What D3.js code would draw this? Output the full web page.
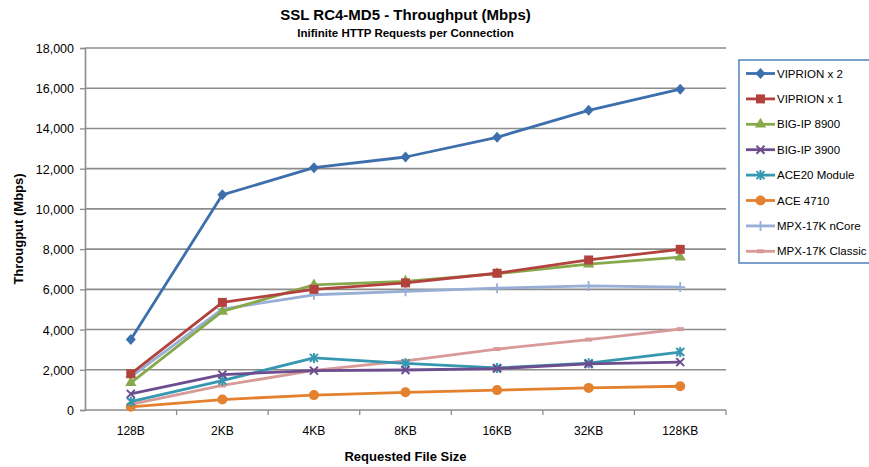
<!DOCTYPE html>
<html>
<head>
<meta charset="utf-8">
<script src="https://cdn.jsdelivr.net/npm/d3@7"></script>
<style>
  body { margin: 0; background: #fff; }
  text { font-family: "Liberation Sans Narrow", "Liberation Sans", Arial, sans-serif; fill: #000; }
  .axisText { font-weight: bold; }
</style>
</head>
<body>
<div id="chart"></div>
<script>
// chart data
var sizes = ["128B", "2KB", "4KB", "8KB", "16KB", "32KB", "128KB"];
var yTicks = [0, 2000, 4000, 6000, 8000, 10000, 12000, 14000, 16000, 18000];

var viprion2 = [3500, 10700, 12050, 12580, 13560, 14900, 15950];
var viprion1 = [1800, 5350, 6000, 6320, 6800, 7460, 7990];
var bigip8900 = [1350, 4900, 6220, 6400, 6780, 7250, 7600];
var bigip3900 = [800, 1760, 1960, 1990, 2060, 2290, 2380];
var ace20 = [420, 1460, 2590, 2320, 2090, 2330, 2880];
var ace4710 = [160, 520, 740, 880, 990, 1100, 1180];
var mpxNcore = [1650, 5020, 5730, 5900, 6060, 6170, 6110];
var mpxClassic = [280, 1220, 1970, 2440, 3030, 3500, 4020];

var seriesNames = ["VIPRION x 2", "VIPRION x 1", "BIG-IP 8900", "BIG-IP 3900",
  "ACE20 Module", "ACE 4710", "MPX-17K nCore", "MPX-17K Classic"];
var seriesValues = [viprion2, viprion1, bigip8900, bigip3900, ace20, ace4710, mpxNcore, mpxClassic];
var seriesColors = ["#3d6fad", "#b3413d", "#87a94b", "#6c4e8f", "#3597b0", "#e3812f", "#97aed6", "#d79a98"];
var seriesMarkers = ["diamond", "square", "triangle", "x", "star", "circle", "plus", "dash"];

var svgWidth = 869;
var svgHeight = 467;
var margin = { top: 48, right: 143, bottom: 57, left: 85 };
var width = svgWidth - margin.left - margin.right;
var height = svgHeight - margin.top - margin.bottom;

var svg = d3.select("#chart")
  .append("svg")
  .attr("width", svgWidth)
  .attr("height", svgHeight);

var chartGroup = svg.append("g")
  .attr("transform", `translate(${margin.left}, ${margin.top})`);

var xBand = d3.scaleBand()
  .domain(sizes)
  .range([0, width]);

var yLinearScale = d3.scaleLinear()
  .domain([0, 18000])
  .range([height, 0]);

function xPos(i) {
  return xBand(sizes[i]) + xBand.bandwidth() / 2;
}

// gridlines
chartGroup.append("g")
  .selectAll("line")
  .data(yTicks.slice(1))
  .enter()
  .append("line")
  .attr("x1", 0)
  .attr("x2", width)
  .attr("y1", d => yLinearScale(d))
  .attr("y2", d => yLinearScale(d))
  .attr("stroke", "#8c8c8c")
  .attr("stroke-width", 1.6);

// y axis
var leftAxis = d3.axisLeft(yLinearScale)
  .tickValues(yTicks)
  .tickSize(5)
  .tickPadding(6)
  .tickFormat(d3.format(","));

var yAxisG = chartGroup.append("g").call(leftAxis);
yAxisG.select(".domain").attr("stroke", "#8c8c8c").attr("stroke-width", 1.6);
yAxisG.selectAll(".tick line").attr("stroke", "#8c8c8c").attr("stroke-width", 1.3);
yAxisG.selectAll(".tick text").attr("font-size", "12.5px").attr("font-family", null).attr("dy", "0.36em");

// x axis: ticks between categories
var bottomAxis = d3.axisBottom(xBand).tickSize(0).tickPadding(16);
var xAxisG = chartGroup.append("g")
  .attr("transform", `translate(0, ${height})`)
  .call(bottomAxis);
xAxisG.select(".domain").remove();
xAxisG.selectAll(".tick text").attr("font-size", "12px").attr("font-family", null);

chartGroup.append("line")
  .attr("x1", 0).attr("x2", width)
  .attr("y1", height).attr("y2", height)
  .attr("stroke", "#8c8c8c").attr("stroke-width", 1.6);

chartGroup.append("g")
  .selectAll("line")
  .data(sizes.slice(1).concat(["end"]))
  .enter()
  .append("line")
  .attr("x1", d => d == "end" ? width : xBand(d))
  .attr("x2", d => d == "end" ? width : xBand(d))
  .attr("y1", height)
  .attr("y2", height + 5)
  .attr("stroke", "#8c8c8c")
  .attr("stroke-width", 1.3);

// marker drawing
function drawMarker(g, type, color) {
  if (type == "diamond") {
    g.append("path").attr("d", "M0,-5.5L5,0L0,5.5L-5,0Z").attr("fill", color);
  } else if (type == "square") {
    g.append("rect").attr("x", -4.5).attr("y", -4.5).attr("width", 9).attr("height", 9).attr("fill", color);
  } else if (type == "triangle") {
    g.append("path").attr("d", d3.symbol(d3.symbolTriangle, 55)()).attr("fill", color);
  } else if (type == "x") {
    g.append("path").attr("d", "M-4,-4L4,4M-4,4L4,-4").attr("stroke", color).attr("stroke-width", 2);
  } else if (type == "star") {
    g.append("path").attr("d", "M-4,-4L4,4M-4,4L4,-4M0,-5L0,5").attr("stroke", color).attr("stroke-width", 2);
  } else if (type == "circle") {
    g.append("circle").attr("r", 5).attr("fill", color);
  } else if (type == "plus") {
    g.append("path").attr("d", "M0,-5L0,5M-5,0L5,0").attr("stroke", color).attr("stroke-width", 1.8);
  } else if (type == "dash") {
    g.append("rect").attr("x", -3.5).attr("y", -2).attr("width", 7).attr("height", 4).attr("fill", color);
  }
}

var line = d3.line()
  .x((d, i) => xPos(i))
  .y(d => yLinearScale(d));

// draw series, last first so the first series sits on top
for (var k = seriesValues.length - 1; k >= 0; k--) {
  var sg = chartGroup.append("g");
  sg.append("path")
    .attr("d", line(seriesValues[k]))
    .attr("fill", "none")
    .attr("stroke", seriesColors[k])
    .attr("stroke-width", 2.8)
    .attr("stroke-linejoin", "round");
  seriesValues[k].forEach(function(v, i) {
    var mg = sg.append("g").attr("transform", `translate(${xPos(i)}, ${yLinearScale(v)})`);
    drawMarker(mg, seriesMarkers[k], seriesColors[k]);
  });
}

// titles
svg.append("text")
  .attr("x", margin.left + width / 2)
  .attr("y", 20)
  .attr("text-anchor", "middle")
  .attr("font-size", "15px")
  .attr("font-weight", "bold")
  .text("SSL RC4-MD5 - Throughput (Mbps)");

svg.append("text")
  .attr("x", margin.left + width / 2)
  .attr("y", 37)
  .attr("text-anchor", "middle")
  .attr("font-size", "11.5px")
  .attr("font-weight", "bold")
  .text("Inifinite HTTP Requests per Connection");

svg.append("text")
  .attr("class", "axisText")
  .attr("x", margin.left + width / 2)
  .attr("y", 461)
  .attr("text-anchor", "middle")
  .attr("font-size", "13px")
  .text("Requested File Size");

svg.append("text")
  .attr("class", "axisText")
  .attr("transform", "rotate(-90)")
  .attr("x", -(margin.top + height / 2))
  .attr("y", 23)
  .attr("text-anchor", "middle")
  .attr("font-size", "13px")
  .text("Througput (Mbps)");

// legend
var legend = svg.append("g").attr("transform", "translate(739, 60)");
legend.append("rect")
  .attr("x", 0).attr("y", 0)
  .attr("width", 140).attr("height", 203)
  .attr("fill", "#fff")
  .attr("stroke", "#4f81bd")
  .attr("stroke-width", 1.5);

seriesNames.forEach(function(name, k) {
  var ly = 13.5 + k * 25.4;
  var lg = legend.append("g").attr("transform", `translate(0, ${ly})`);
  lg.append("line")
    .attr("x1", 7).attr("x2", 36)
    .attr("y1", 0).attr("y2", 0)
    .attr("stroke", seriesColors[k])
    .attr("stroke-width", 2.8);
  var mg = lg.append("g").attr("transform", "translate(21.5, 0)");
  drawMarker(mg, seriesMarkers[k], seriesColors[k]);
  lg.append("text")
    .attr("x", 38)
    .attr("y", 0)
    .attr("dy", "0.36em")
    .attr("font-size", "11.5px")
    .text(name);
});
</script>
</body>
</html>
